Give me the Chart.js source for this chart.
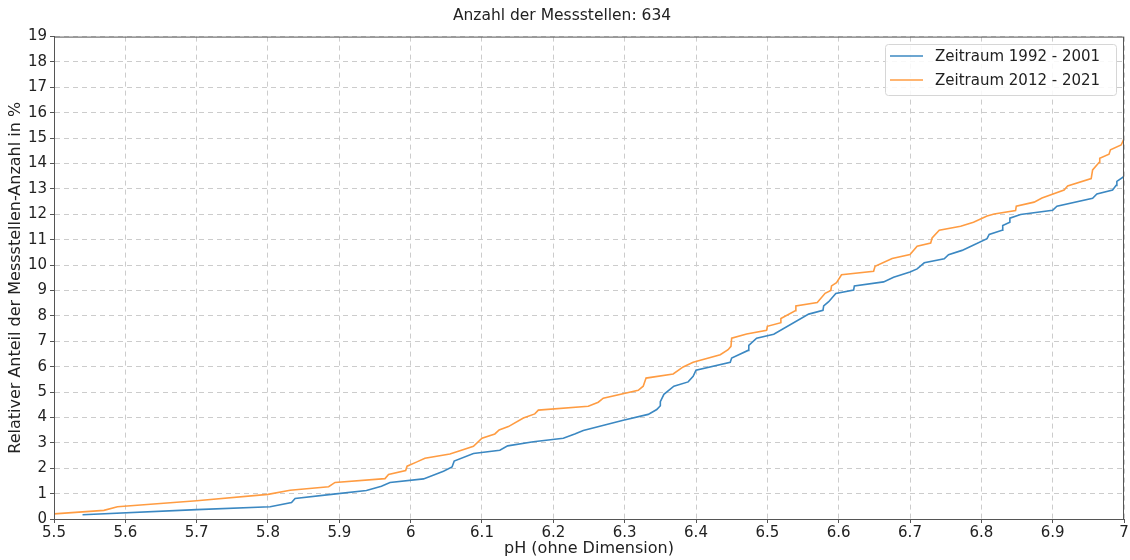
<!DOCTYPE html>
<html>
<head>
<meta charset="utf-8">
<script src="https://cdn.jsdelivr.net/npm/chart.js@4"></script>
<style>
  html, body { margin: 0; padding: 0; background: #fff; }
  #wrap { width: 1130px; height: 560px; position: relative; }
</style>
</head>
<body>
<div id="wrap"><canvas id="c"></canvas></div>
<script>
const seriesLabels = ['Zeitraum 1992 - 2001', 'Zeitraum 2012 - 2021'];

// Zeitraum 1992 - 2001
const phOld = [5.54, 5.70, 5.803, 5.833, 5.838, 5.892, 5.938, 5.959, 5.971, 6.018,
  6.046, 6.058, 6.061, 6.088, 6.125, 6.136, 6.172, 6.214, 6.23, 6.242,
  6.298, 6.333, 6.345, 6.35, 6.35, 6.355, 6.369, 6.389, 6.396, 6.40,
  6.448, 6.45, 6.473, 6.474, 6.485, 6.509, 6.558, 6.578, 6.579, 6.586,
  6.596, 6.621, 6.622, 6.663, 6.677, 6.70, 6.71, 6.72, 6.748, 6.754,
  6.773, 6.787, 6.808, 6.811, 6.829, 6.83, 6.84, 6.84, 6.855, 6.90,
  6.906, 6.956, 6.962, 6.984, 6.989, 6.99, 7.0];
const pctOld = [0.17, 0.37, 0.48, 0.65, 0.81, 0.98, 1.12, 1.29, 1.44, 1.58,
  1.88, 2.05, 2.28, 2.58, 2.71, 2.88, 3.04, 3.18, 3.35, 3.49,
  3.89, 4.12, 4.31, 4.46, 4.62, 4.91, 5.23, 5.40, 5.62, 5.86,
  6.17, 6.34, 6.64, 6.84, 7.12, 7.28, 8.07, 8.22, 8.39, 8.56,
  8.88, 9.02, 9.18, 9.34, 9.52, 9.73, 9.85, 10.09, 10.25, 10.41,
  10.58, 10.76, 11.04, 11.21, 11.37, 11.56, 11.69, 11.85, 11.99, 12.16,
  12.32, 12.63, 12.80, 12.96, 13.14, 13.30, 13.49];

// Zeitraum 2012 - 2021
const phNew = [5.50, 5.57, 5.589, 5.70, 5.80, 5.831, 5.885, 5.894, 5.964, 5.969,
  5.993, 5.995, 6.008, 6.02, 6.055, 6.069, 6.088, 6.10, 6.118, 6.124,
  6.137, 6.158, 6.174, 6.179, 6.249, 6.263, 6.27, 6.319, 6.326, 6.33,
  6.368, 6.382, 6.396, 6.434, 6.445, 6.449, 6.45, 6.471, 6.499, 6.50,
  6.519, 6.519, 6.539, 6.54, 6.57, 6.581, 6.589, 6.59, 6.597, 6.604,
  6.649, 6.651, 6.675, 6.70, 6.71, 6.729, 6.731, 6.741, 6.771, 6.789,
  6.808, 6.818, 6.848, 6.849, 6.874, 6.885, 6.916, 6.921, 6.954, 6.956,
  6.965, 6.966, 6.979, 6.981, 6.996, 7.0];
const pctNew = [0.20, 0.34, 0.48, 0.72, 0.97, 1.13, 1.27, 1.44, 1.59, 1.75,
  1.91, 2.08, 2.24, 2.39, 2.56, 2.69, 2.86, 3.18, 3.35, 3.51,
  3.64, 3.98, 4.14, 4.29, 4.44, 4.60, 4.76, 5.07, 5.23, 5.55,
  5.71, 5.99, 6.17, 6.47, 6.67, 6.80, 7.12, 7.29, 7.43, 7.59,
  7.73, 7.90, 8.20, 8.39, 8.53, 8.89, 9.00, 9.18, 9.31, 9.62,
  9.76, 9.95, 10.26, 10.42, 10.74, 10.87, 11.07, 11.37, 11.53, 11.69,
  11.93, 12.01, 12.15, 12.32, 12.48, 12.64, 12.96, 13.12, 13.41, 13.75,
  14.04, 14.21, 14.37, 14.54, 14.73, 14.97];

const FONT = 'DejaVu Sans';
const colors = ['#3b88c2', '#ff9c42'];

function pts(xs, ys) { return xs.map((x, i) => ({ x, y: ys[i] })); }

// frame, legend box and x axis title drawn by hand (matplotlib look)
const extras = {
  id: 'extras',
  afterDraw(chart) {
    const { ctx, chartArea: a } = chart;
    ctx.save();
    ctx.strokeStyle = '#555';
    ctx.lineWidth = 1;
    ctx.strokeRect(a.left + 0.5, a.top + 0.5, a.right - a.left - 1, a.bottom - a.top);

    // legend
    const bx = 885, by = 44, bw = 231, bh = 51;
    ctx.fillStyle = 'rgba(255,255,255,0.85)';
    ctx.strokeStyle = '#d6d6d6';
    ctx.beginPath();
    ctx.roundRect(bx + 0.5, by + 0.5, bw, bh, 3);
    ctx.fill();
    ctx.stroke();
    ctx.font = '15px ' + FONT;
    ctx.textBaseline = 'middle';
    chart.data.datasets.forEach((ds, i) => {
      const y = by + 12 + i * 24;
      ctx.strokeStyle = ds.borderColor;
      ctx.lineWidth = 1.6;
      ctx.beginPath();
      ctx.moveTo(bx + 5, y);
      ctx.lineTo(bx + 38, y);
      ctx.stroke();
      ctx.fillStyle = '#222';
      ctx.fillText(ds.label, bx + 50, y + 1);
    });

    // x title
    ctx.font = '16px ' + FONT;
    ctx.textAlign = 'center';
    ctx.textBaseline = 'middle';
    ctx.fillStyle = '#222';
    ctx.fillText('pH (ohne Dimension)', (a.left + a.right) / 2, 549);
    ctx.restore();
  }
};

const gridOpts = { color: '#cccccc', tickColor: '#555', tickLength: 4, tickBorderDash: [] };

new Chart(document.getElementById('c'), {
  type: 'line',
  data: {
    datasets: [
      { label: seriesLabels[0], data: pts(phOld, pctOld), borderColor: colors[0], borderWidth: 1.6, pointRadius: 0, tension: 0, fill: false },
      { label: seriesLabels[1], data: pts(phNew, pctNew), borderColor: colors[1], borderWidth: 1.6, pointRadius: 0, tension: 0, fill: false }
    ]
  },
  options: {
    responsive: true,
    maintainAspectRatio: false,
    animation: false,
    layout: { padding: { top: 0, right: 6, left: 0, bottom: 0 } },
    plugins: {
      legend: { display: false },
      tooltip: { enabled: false },
      title: {
        display: true,
        text: 'Anzahl der Messstellen: 634',
        color: '#222',
        font: { family: FONT, size: 15.5, weight: 'normal' },
        padding: { top: 7, bottom: 11 }
      }
    },
    scales: {
      x: {
        type: 'linear',
        min: 5.5, max: 7,
        afterFit: s => { s.height = 41; },
        ticks: {
          stepSize: 0.1,
          color: '#222',
          font: { family: FONT, size: 15 },
          maxRotation: 0,
          padding: 1,
          callback: v => String(Number(v.toFixed(1)))
        },
        grid: gridOpts,
        border: { display: true, color: '#555', dash: [5, 4] }
      },
      y: {
        min: 0, max: 19,
        afterFit: s => { s.width = 54; },
        ticks: {
          stepSize: 1,
          color: '#222',
          font: { family: FONT, size: 15 },
          padding: 3
        },
        grid: gridOpts,
        border: { display: true, color: '#555', dash: [5, 4] },
        title: {
          display: true,
          text: 'Relativer Anteil der Messstellen-Anzahl in %',
          color: '#222',
          font: { family: FONT, size: 16 },
          padding: { top: 6, bottom: 0 }
        }
      }
    }
  },
  plugins: [extras]
});
</script>
</body>
</html>
